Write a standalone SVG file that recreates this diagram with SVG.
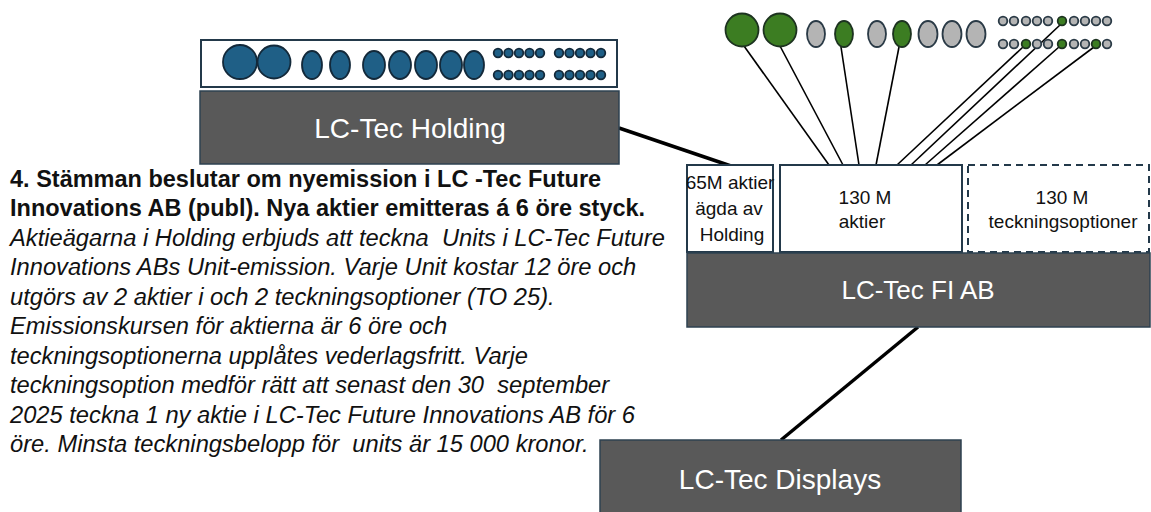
<svg xmlns="http://www.w3.org/2000/svg" width="1151" height="512" viewBox="0 0 1151 512">
<style>
text{font-family:"Liberation Sans",Arial,sans-serif;white-space:pre}
.gbox{fill:#595959;stroke:#2e4150;stroke-width:1.5}
.wbox{fill:#fff;stroke:#23394a;stroke-width:2}
.dash{fill:#fff;stroke:#23394a;stroke-width:2;stroke-dasharray:7 5}
.big{fill:#fff;font-size:28px;text-anchor:middle}
.lbl{fill:#111;font-size:19px;text-anchor:middle}
.blue{fill:#1f5f86;stroke:#13293a;stroke-width:1.8}
.green{fill:#3c7d22;stroke:#1d3320;stroke-width:1.8}
.grey{fill:#b4b4b4;stroke:#2a3a46;stroke-width:1.8}
.bold{font-weight:bold;font-size:23.5px;fill:#111}
.ital{font-style:italic;font-size:23.7px;fill:#111}
.thin{stroke:#000;stroke-width:1.6;fill:none}
.thick{stroke:#000;stroke-width:3.5;fill:none}
</style>

<g id="connectors">
  <line class="thick" x1="619" y1="128" x2="731" y2="166"/>
  <line class="thick" x1="918" y1="327" x2="781" y2="440"/>
  <line class="thin" x1="744" y1="46" x2="829" y2="165"/>
  <line class="thin" x1="780" y1="46" x2="843" y2="165"/>
  <line class="thin" x1="841" y1="47" x2="859" y2="165"/>
  <line class="thin" x1="899" y1="47" x2="876" y2="165"/>
  <line class="thin" x1="1023" y1="47" x2="897" y2="165"/>
  <line class="thin" x1="1060" y1="25" x2="911" y2="165"/>
  <line class="thin" x1="1059" y1="47" x2="925" y2="165"/>
  <line class="thin" x1="1094" y1="47" x2="937" y2="165"/>
</g>

<g id="holding-owners">
  <rect class="wbox" x="201" y="40" width="416" height="47"/>
  <circle class="blue" cx="240" cy="62" r="17"/>
  <circle class="blue" cx="274" cy="62" r="16.5"/>
  <ellipse class="blue" cx="312" cy="65" rx="10" ry="14"/>
  <ellipse class="blue" cx="340" cy="65" rx="10" ry="14"/>
  <ellipse class="blue" cx="374" cy="65" rx="11" ry="14"/>
  <ellipse class="blue" cx="400" cy="65" rx="11" ry="14"/>
  <ellipse class="blue" cx="426" cy="65" rx="11" ry="14"/>
  <ellipse class="blue" cx="451" cy="65" rx="11" ry="14"/>
  <ellipse class="blue" cx="474" cy="65" rx="10" ry="14"/>
  <g class="blue">
    <circle cx="498" cy="53" r="4.3"/><circle cx="508.5" cy="53" r="4.3"/><circle cx="519" cy="53" r="4.3"/><circle cx="529.5" cy="53" r="4.3"/><circle cx="540" cy="53" r="4.3"/>
    <circle cx="559" cy="53" r="4.3"/><circle cx="569.5" cy="53" r="4.3"/><circle cx="580" cy="53" r="4.3"/><circle cx="590.5" cy="53" r="4.3"/><circle cx="601" cy="53" r="4.3"/>
    <circle cx="498" cy="75" r="4.3"/><circle cx="508.5" cy="75" r="4.3"/><circle cx="519" cy="75" r="4.3"/><circle cx="529.5" cy="75" r="4.3"/><circle cx="540" cy="75" r="4.3"/>
    <circle cx="559" cy="75" r="4.3"/><circle cx="569.5" cy="75" r="4.3"/><circle cx="580" cy="75" r="4.3"/><circle cx="590.5" cy="75" r="4.3"/><circle cx="601" cy="75" r="4.3"/>
  </g>
</g>

<g id="holding">
  <rect class="gbox" x="200" y="91" width="419" height="73"/>
  <text class="big" x="410" y="138">LC-Tec Holding</text>
</g>

<g id="fi-owners">
  <circle class="green" cx="742" cy="30" r="16.5"/>
  <circle class="green" cx="780" cy="30" r="16.5"/>
  <ellipse class="grey" cx="816" cy="34" rx="9" ry="13"/>
  <ellipse class="green" cx="844" cy="34" rx="9" ry="13"/>
  <ellipse class="grey" cx="877" cy="34" rx="9" ry="13"/>
  <ellipse class="green" cx="902" cy="34" rx="9" ry="13"/>
  <ellipse class="grey" cx="928" cy="34" rx="9.5" ry="13"/>
  <ellipse class="grey" cx="952" cy="34" rx="9.5" ry="13"/>
  <ellipse class="grey" cx="976" cy="34" rx="9.5" ry="13"/>
  <g class="grey">
    <circle cx="1003" cy="21" r="4.3"/><circle cx="1014" cy="21" r="4.3"/><circle cx="1026" cy="21" r="4.3"/><circle cx="1037" cy="21" r="4.3"/><circle cx="1048" cy="21" r="4.3"/>
    <circle cx="1074" cy="21" r="4.3"/><circle cx="1085" cy="21" r="4.3"/><circle cx="1096" cy="21" r="4.3"/><circle cx="1107" cy="21" r="4.3"/>
    <circle cx="1003" cy="44" r="4.3"/><circle cx="1014" cy="44" r="4.3"/><circle cx="1037" cy="44" r="4.3"/><circle cx="1048" cy="44" r="4.3"/>
    <circle cx="1074" cy="44" r="4.3"/><circle cx="1085" cy="44" r="4.3"/><circle cx="1107" cy="44" r="4.3"/>
  </g>
  <g class="green">
    <circle cx="1062" cy="21" r="4.3"/>
    <circle cx="1026" cy="44" r="4.3"/><circle cx="1062" cy="44" r="4.3"/><circle cx="1096" cy="44" r="4.3"/>
  </g>
</g>

<g id="shares-holding">
  <rect class="wbox" x="687" y="165" width="86" height="87"/>
  <text class="lbl" x="730" y="189">65M aktier</text>
  <text class="lbl" x="729" y="215">ägda av</text>
  <text class="lbl" x="732" y="241">Holding</text>
</g>
<g id="shares-new">
  <rect class="wbox" x="780" y="165" width="182" height="87"/>
  <text class="lbl" x="865" y="204">130 M</text>
  <text class="lbl" x="862" y="228">aktier</text>
</g>
<g id="options">
  <rect class="dash" x="968" y="165" width="181" height="87"/>
  <text class="lbl" x="1062" y="204">130 M</text>
  <text class="lbl" x="1063" y="228">teckningsoptioner</text>
</g>

<g id="fi">
  <rect class="gbox" x="687" y="253" width="463" height="74"/>
  <text class="big" x="918" y="299" style="font-size:26px">LC-Tec FI AB</text>
</g>

<g id="displays">
  <rect class="gbox" x="600" y="440" width="361" height="80"/>
  <text class="big" x="780" y="489">LC-Tec Displays</text>
</g>

<g id="description">
  <text class="bold" x="10" y="187">4. Stämman beslutar om nyemission i LC -Tec Future</text>
  <text class="bold" x="10" y="216">Innovations AB (publ). Nya aktier emitteras á 6 öre styck.</text>
  <text class="ital" x="10" y="246">Aktieägarna i Holding erbjuds att teckna  Units i LC-Tec Future</text>
  <text class="ital" x="10" y="275">Innovations ABs Unit-emission. Varje Unit kostar 12 öre och</text>
  <text class="ital" x="10" y="305">utgörs av 2 aktier i och 2 teckningsoptioner (TO 25).</text>
  <text class="ital" x="10" y="334">Emissionskursen för aktierna är 6 öre och</text>
  <text class="ital" x="10" y="364">teckningsoptionerna upplåtes vederlagsfritt. Varje</text>
  <text class="ital" x="10" y="393">teckningsoption medför rätt att senast den 30  september</text>
  <text class="ital" x="10" y="423">2025 teckna 1 ny aktie i LC-Tec Future Innovations AB för 6</text>
  <text class="ital" x="10" y="452">öre. Minsta teckningsbelopp för  units är 15 000 kronor.</text>
</g>
</svg>
